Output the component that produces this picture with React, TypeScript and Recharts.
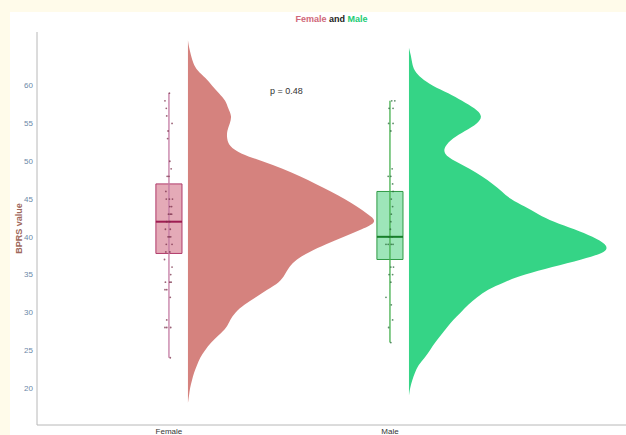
import {
  ComposedChart,
  Area,
  Scatter,
  XAxis,
  YAxis,
  ReferenceArea,
  ReferenceLine,
} from "recharts";

// value grid for the half-violins (BPRS value)
const valueGrid = [
  17, 18, 19, 20, 21, 22, 23, 24, 25, 26, 27, 28, 29, 30, 31, 32, 33, 34, 35, 36, 37, 38, 39, 40, 41,
  42, 43, 44, 45, 46, 47, 48, 49, 50, 51, 52, 53, 54, 55, 56, 57, 58, 59, 60, 61, 62, 63, 64, 65, 66,
];

// scaled density (violin half-width, in group units) on valueGrid
const femaleDensity = [
  null, 0, 0.005, 0.009, 0.018, 0.027, 0.041, 0.054, 0.077, 0.104, 0.14, 0.176, 0.19, 0.213, 0.253,
  0.308, 0.357, 0.416, 0.439, 0.457, 0.489, 0.548, 0.624, 0.706, 0.787, 0.862, 0.814, 0.765, 0.71,
  0.647, 0.579, 0.507, 0.43, 0.339, 0.235, 0.186, 0.176, 0.176, 0.19, 0.199, 0.181, 0.172, 0.14,
  0.109, 0.081, 0.041, 0.023, 0.014, 0.005, 0,
];
const maleDensity = [
  null, null, 0, 0.005, 0.014, 0.027, 0.041, 0.072, 0.095, 0.118, 0.145, 0.172, 0.199, 0.235, 0.267,
  0.308, 0.353, 0.43, 0.52, 0.647, 0.783, 0.9, 0.895, 0.833, 0.751, 0.652, 0.584, 0.525, 0.457,
  0.421, 0.38, 0.33, 0.276, 0.208, 0.154, 0.163, 0.195, 0.253, 0.312, 0.335, 0.299, 0.24, 0.181,
  0.104, 0.054, 0.023, 0.014, 0.009, 0, null,
];

// raw scores
const femaleScores = [
  59, 58, 57, 56, 55, 54, 53, 50, 49, 48, 48, 46, 45, 45, 45, 44, 44, 43, 43, 43, 42, 42, 41, 41, 40,
  40, 40, 39, 39, 38, 38, 37, 36, 35, 34, 34, 34, 33, 33, 32, 29, 28, 28, 28, 24,
];
const femaleJitter = [
  0.002, -0.018, -0.012, -0.01, 0.014, -0.004, -0.006, 0.004, 0.01, -0.008, 0, -0.014, -0.012, 0.002,
  0.016, 0.004, 0.012, -0.002, 0.006, 0.012, -0.01, 0.004, -0.016, 0.006, -0.004, 0.002, 0.008,
  -0.012, 0.014, -0.014, 0.004, -0.02, 0.014, 0.008, -0.016, 0.004, 0.01, -0.018, -0.01, 0.006,
  -0.01, -0.018, -0.01, 0.008, 0.006,
];
const maleScores = [
  58, 58, 57, 57, 55, 55, 54, 49, 48, 48, 47, 46, 45, 44, 43, 42, 41, 40, 40, 39, 39, 39, 39, 36, 36,
  35, 35, 34, 32, 31, 29, 28, 26,
];
const maleJitter = [
  0.022, 0.008, 0.014, -0.004, 0.014, -0.006, 0.004, 0.01, 0.004, -0.008, 0.012, 0.014, 0.006, 0.012,
  0.006, 0.004, 0.002, -0.004, 0.01, -0.018, -0.008, 0.006, 0.014, 0.004, 0.016, -0.004, 0.012,
  0.004, -0.018, 0.006, 0.012, -0.006, 0.004,
];

// box stats: [min, q1, median, q3, max]
const femaleBox = [24, 37.8, 42, 47, 59];
const maleBox = [26, 37, 40, 46, 58];

const groups = ["Female", "Male"];
const yTicks = [20, 25, 30, 35, 40, 45, 50, 55, 60];

const FEMALE_X = 1;
const MALE_X = 2;
const BOX_HALF = 0.059;
const VIOLIN_OFFSET = 0.086;

const violinData = valueGrid.map((v, i) => ({
  v,
  female:
    femaleDensity[i] == null
      ? null
      : [FEMALE_X + VIOLIN_OFFSET, FEMALE_X + VIOLIN_OFFSET + (femaleDensity[i] as number)],
  male:
    maleDensity[i] == null
      ? null
      : [MALE_X + VIOLIN_OFFSET, MALE_X + VIOLIN_OFFSET + (maleDensity[i] as number)],
}));

const femalePoints = femaleScores.map((v, i) => ({ x: FEMALE_X + femaleJitter[i], v }));
const malePoints = maleScores.map((v, i) => ({ x: MALE_X + maleJitter[i], v }));

const dot = (fill: string) => (p: any) => (
  <circle cx={p.cx} cy={p.cy} r={0.9} fill={fill} fillOpacity={0.75} />
);

function BoxPlot(x: number, s: number[], c: { fill: string; stroke: string; median: string; whisker: string }) {
  return [
    <ReferenceLine
      key="w"
      segment={[{ x, y: s[0] }, { x, y: s[4] }]}
      stroke={c.whisker}
      strokeWidth={1.3}
      ifOverflow="visible"
    />,
    <ReferenceArea
      key="b"
      x1={x - BOX_HALF}
      x2={x + BOX_HALF}
      y1={s[1]}
      y2={s[3]}
      fill={c.fill}
      fillOpacity={0.5}
      stroke={c.stroke}
      strokeWidth={1}
      strokeOpacity={1}
    />,
    <ReferenceLine
      key="m"
      segment={[{ x: x - BOX_HALF, y: s[2] }, { x: x + BOX_HALF, y: s[2] }]}
      stroke={c.median}
      strokeWidth={2}
    />,
  ];
}

export default function App() {
  return (
    <div
      style={{
        position: "absolute",
        left: 0,
        top: 0,
        width: 626,
        height: 435,
        background: "#fffbea",
        fontFamily: "'Liberation Sans', Arial, sans-serif",
        overflow: "hidden",
      }}
    >
      <div style={{ position: "absolute", left: 10, top: 12, width: 616, height: 423, background: "#fff" }} />
      <div
        style={{
          position: "absolute",
          left: 37,
          width: 589,
          top: 14,
          textAlign: "center",
          fontSize: 9,
          lineHeight: "11px",
          fontWeight: "bold",
          color: "#222",
        }}
      >
        <span style={{ color: "#d0687a" }}>Female</span> and <span style={{ color: "#22cc74" }}>Male</span>
      </div>
      <div style={{ position: "absolute", left: 270, top: 86, fontSize: 9, lineHeight: "11px", color: "#333" }}>
        p = 0.48
      </div>
      <div style={{ position: "absolute", left: 0, top: 0 }}>
        <ComposedChart
          width={626}
          height={435}
          layout="vertical"
          data={violinData}
          margin={{ top: 32, right: 0, bottom: 0, left: 0 }}
        >
          <XAxis
            type="number"
            dataKey="x"
            domain={[0.403, 3.068]}
            allowDataOverflow
            ticks={[FEMALE_X, MALE_X]}
            tickFormatter={(t) => groups[t - 1]}
            height={10}
            tickLine={false}
            tickSize={0}
            tickMargin={3}
            axisLine={{ stroke: "#b8b8b8" }}
            tick={{ fill: "#333", fontSize: 8 }}
          />
          <YAxis
            type="number"
            dataKey="v"
            domain={[15.1, 67.1]}
            allowDataOverflow
            reversed
            ticks={yTicks}
            width={37}
            tickLine={false}
            tickSize={0}
            tickMargin={4}
            axisLine={{ stroke: "#b8b8b8" }}
            tick={{ fill: "#6b88a8", fontSize: 8 }}
            label={{
              value: "BPRS value",
              angle: -90,
              position: "center",
              fill: "#a0695c",
              fontSize: 9,
              fontWeight: "bold",
            }}
          />
          <Area
            type="basis"
            dataKey="female"
            stroke="none"
            fill="#d5827e"
            fillOpacity={1}
            dot={false}
            activeDot={false}
            isAnimationActive={false}
          />
          <Area
            type="basis"
            dataKey="male"
            stroke="none"
            fill="#35d486"
            fillOpacity={1}
            dot={false}
            activeDot={false}
            isAnimationActive={false}
          />
          {BoxPlot(FEMALE_X, femaleBox, { fill: "#c9566f", stroke: "#b03a6a", median: "#9e1d52", whisker: "#c47aa3" })}
          {BoxPlot(MALE_X, maleBox, { fill: "#3ccb74", stroke: "#2f9a45", median: "#17802a", whisker: "#45b04f" })}
          <Scatter data={femalePoints} shape={dot("#7a2f4a")} isAnimationActive={false} />
          <Scatter data={malePoints} shape={dot("#2a6a3a")} isAnimationActive={false} />
        </ComposedChart>
      </div>
    </div>
  );
}
